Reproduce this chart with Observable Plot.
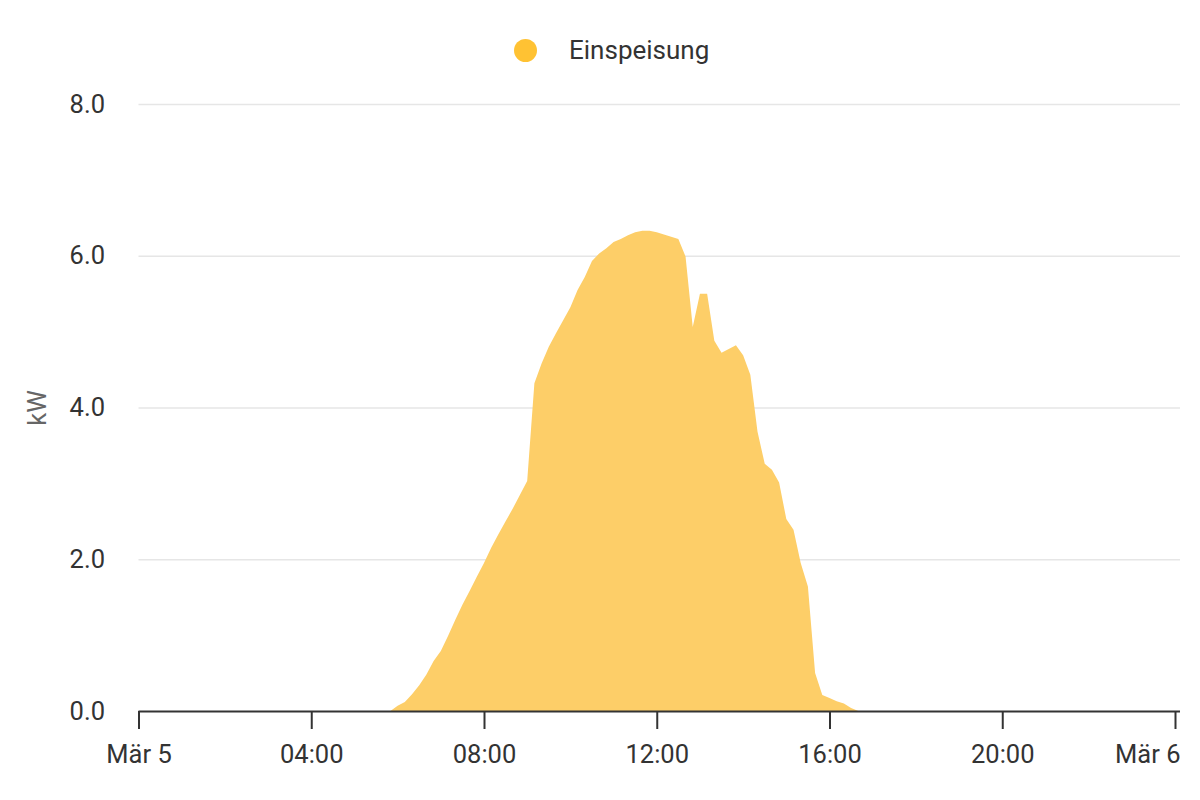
<!DOCTYPE html>
<html>
<head>
<meta charset="utf-8">
<script src="https://cdn.jsdelivr.net/npm/d3@7"></script>
<script src="https://cdn.jsdelivr.net/npm/@observablehq/plot@0.6"></script>
<style>
  html, body { margin: 0; padding: 0; background: #fff; }
  body { width: 1200px; height: 800px; font-family: Roboto, "Liberation Sans", sans-serif; }
  #legend { position: relative; height: 80px; width: 1200px; }
  #legend .dot { position: absolute; left: 514px; top: 39px; width: 23px; height: 23px; border-radius: 50%; background: #ffc233; }
  #legend .label { position: absolute; left: 569px; top: 35px; font-size: 26px; color: #333; line-height: 30px; }
  svg { display: block; }
</style>
</head>
<body>
<div id="legend"><span class="dot"></span><span class="label">Einspeisung</span></div>
<div id="chart"></div>
<script>
// Data (10-minute samples, kW)
const times = [
  "05:50","06:00","06:10","06:20","06:30","06:40","06:50",
  "07:00","07:10","07:20","07:30","07:40","07:50",
  "08:00","08:10","08:20","08:30","08:40","08:50",
  "09:00","09:10","09:20","09:30","09:40","09:50",
  "10:00","10:10","10:20","10:30","10:40","10:50",
  "11:00","11:10","11:20","11:30","11:40","11:50",
  "12:00","12:10","12:20","12:30","12:40","12:50",
  "13:00","13:10","13:20","13:30","13:40","13:50",
  "14:00","14:10","14:20","14:30","14:40","14:50",
  "15:00","15:10","15:20","15:30","15:40","15:50",
  "16:00","16:10","16:20","16:30","16:40"
];
const values = [
  0.00, 0.07, 0.12, 0.22, 0.34, 0.48, 0.66,
  0.79, 0.99, 1.20, 1.40, 1.58, 1.77,
  1.95, 2.15, 2.33, 2.50, 2.67, 2.85,
  3.03, 4.32, 4.58, 4.80, 4.98, 5.15,
  5.32, 5.55, 5.72, 5.93, 6.03, 6.10,
  6.18, 6.22, 6.27, 6.31, 6.33, 6.33,
  6.31, 6.28, 6.25, 6.22, 5.99, 5.06,
  5.50, 5.50, 4.88, 4.72, 4.77, 4.82,
  4.69, 4.43, 3.68, 3.26, 3.18, 3.01,
  2.53, 2.39, 1.95, 1.64, 0.50, 0.21,
  0.17, 0.13, 0.10, 0.04, 0.00
];
const day = "2024-03-05";
const nextDay = "2024-03-06";
const xTickTimes = ["00:00","04:00","08:00","12:00","16:00","20:00"];
const xTickLabels = ["Mär 5","04:00","08:00","12:00","16:00","20:00","Mär 6"];
const yTicks = [0, 2, 4, 6, 8];
const seriesName = "Einspeisung";
const yLabel = "kW";

const data = times.map((t, i) => ({ date: new Date(`${day}T${t}:00Z`), kw: values[i] }));
const tickDates = xTickTimes.map(t => new Date(`${day}T${t}:00Z`)).concat([new Date(`${nextDay}T00:00:00Z`)]);

const fs = 25.5;
const plot = Plot.plot({
  width: 1200,
  height: 720,
  marginTop: 24,
  marginBottom: 89,
  marginLeft: 138.5,
  marginRight: 25,
  style: { fontFamily: "Roboto, 'Liberation Sans', sans-serif", background: "#fff" },
  x: { type: "utc", domain: [tickDates[0], tickDates[tickDates.length - 1]] },
  y: { domain: [0, 8] },
  marks: [
    Plot.ruleY(yTicks.filter(d => d !== 0), { stroke: "#e6e6e6", strokeWidth: 1.5, insetRight: -5 }),
    Plot.areaY(data, { x: "date", y: "kw", fill: "#fdce68", curve: "linear" }),
    Plot.ruleY([0], { stroke: "#333", strokeWidth: 2, insetRight: -5 }),
    Plot.axisX({ ticks: tickDates, tickSize: 18, tickFormat: () => "", stroke: "#333", strokeWidth: 2, label: null }),
    Plot.text(d3.range(tickDates.length - 1), {
      x: i => tickDates[i], text: i => xTickLabels[i],
      frameAnchor: "bottom", dy: 43, lineAnchor: "middle", textAnchor: "middle",
      fontSize: fs, fill: "#333"
    }),
    Plot.text([tickDates.length - 1], {
      x: i => tickDates[i], text: i => xTickLabels[i],
      frameAnchor: "bottom", dy: 43, dx: 5, lineAnchor: "middle", textAnchor: "end",
      fontSize: fs, fill: "#333"
    }),
    Plot.axisY({ ticks: yTicks, tickSize: 0, tickPadding: 34, tickFormat: d3.format(".1f"), fontSize: fs, fill: "#333", label: null }),
    Plot.text([yLabel], { frameAnchor: "left", dx: -101, rotate: -90, fontSize: fs, fill: "#666", lineAnchor: "middle", textAnchor: "middle" })
  ]
});
document.getElementById("chart").appendChild(plot);
</script>
</body>
</html>
